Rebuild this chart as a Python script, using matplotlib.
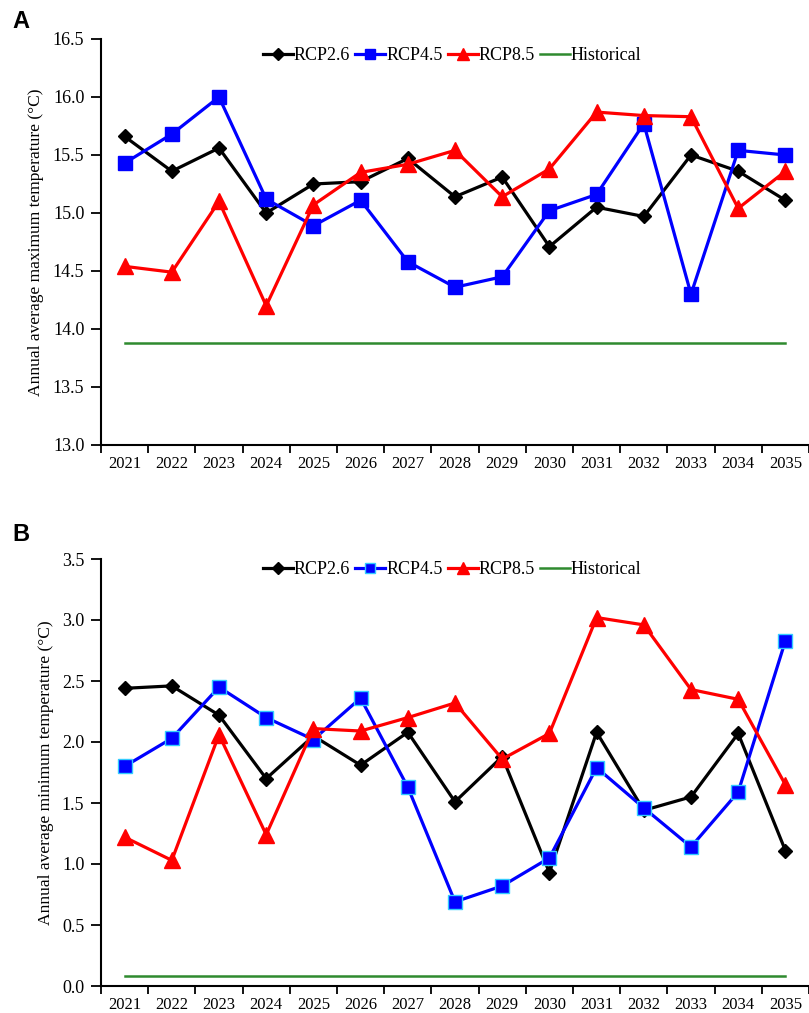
import numpy as np
import matplotlib
matplotlib.use("Agg")
import matplotlib.pyplot as plt

years = [str(y) for y in range(2021, 2036)]

# Panel A: annual average maximum temperature
tmax_rcp26 = [15.66, 15.36, 15.56, 15.00, 15.25, 15.27, 15.47, 15.14, 15.31, 14.71, 15.05, 14.97, 15.50, 15.36, 15.11]
tmax_rcp45 = [15.43, 15.68, 16.00, 15.12, 14.89, 15.11, 14.58, 14.36, 14.45, 15.02, 15.16, 15.77, 14.30, 15.54, 15.50]
tmax_rcp85 = [14.54, 14.49, 15.10, 14.20, 15.07, 15.35, 15.42, 15.54, 15.14, 15.38, 15.87, 15.84, 15.83, 15.04, 15.36]
tmax_hist = 13.88

# Panel B: annual average minimum temperature
tmin_rcp26 = [2.44, 2.46, 2.22, 1.70, 2.05, 1.81, 2.08, 1.51, 1.88, 0.93, 2.08, 1.44, 1.55, 2.07, 1.11]
tmin_rcp45 = [1.80, 2.03, 2.45, 2.20, 2.02, 2.36, 1.63, 0.69, 0.82, 1.05, 1.79, 1.46, 1.14, 1.59, 2.83]
tmin_rcp85 = [1.22, 1.03, 2.06, 1.24, 2.11, 2.09, 2.20, 2.32, 1.86, 2.07, 3.02, 2.96, 2.43, 2.35, 1.65]
tmin_hist = 0.08

plt.rcParams['font.family'] = ['Liberation Serif', 'DejaVu Serif']

fig = plt.figure(figsize=(8.09, 10.13), dpi=100)
W, H = 809, 1013

def make_ax(top_px, bot_px):
    left = 101 / W
    right = 809 / W
    return fig.add_axes([left, 1 - bot_px / H, right - left, (bot_px - top_px) / H])

axA = make_ax(39, 445)
axB = make_ax(559, 986)

def draw(ax, r26, r45, r85, hist, ylim, ylabel, blue_edge, legend_y):
    x = np.arange(len(years))
    ax.plot(x, r26, color='black', lw=2.3, marker='D', ms=7.5, mfc='black', mec='black', label='RCP2.6', zorder=3)
    ax.plot(x, r45, color='#0000FF', lw=2.3, marker='s', ms=9.5, mfc='#0000FF', mec=blue_edge, mew=1.0, label='RCP4.5', zorder=3)
    ax.plot(x, r85, color='#FF0000', lw=2.3, marker='^', ms=11, mfc='#FF0000', mec='#FF0000', label='RCP8.5', zorder=3)
    ax.plot(x, [hist] * len(x), color='#2f8a2f', lw=1.8, label='Historical', zorder=2)
    ax.set_xlim(-0.5, len(years) - 0.5)
    ax.set_ylim(*ylim)
    ticks = np.arange(ylim[0], ylim[1] + 0.01, 0.5)
    ax.set_yticks(ticks)
    ax.set_yticklabels([f"{v:.1f}" for v in ticks])
    ax.set_xticks(x)
    ax.set_xticklabels(years)
    ax.set_xticks(np.arange(-0.5, len(years), 1), minor=True)
    ax.tick_params(axis='x', which='major', length=0, pad=8, labelsize=12)
    ax.tick_params(axis='x', which='minor', length=6, width=1.3, direction='out')
    ax.tick_params(axis='y', length=7, width=1.3, direction='out', labelsize=13, pad=5)
    for s in ['top', 'right']:
        ax.spines[s].set_visible(False)
    for s in ['left', 'bottom']:
        ax.spines[s].set_linewidth(1.5)
    ax.set_ylabel(ylabel, fontsize=12.6, labelpad=6)
    ax.legend(loc='upper center', bbox_to_anchor=(0.496, legend_y), ncol=4, frameon=False,
              fontsize=13, handlelength=1.65, handletextpad=0.05, columnspacing=0.3,
              borderaxespad=0, markerscale=0.75)

draw(axA, tmax_rcp26, tmax_rcp45, tmax_rcp85, tmax_hist, (13.0, 16.5),
     'Annual average maximum temperature (°C)', '#0000FF', 0.997)
draw(axB, tmin_rcp26, tmin_rcp45, tmin_rcp85, tmin_hist, (0.0, 3.5),
     'Annual average minimum temperature (°C)', '#33ccff', 1.012)

fig.text(12 / W, 1 - 22 / H, 'A', fontsize=17, fontweight='bold', family='Liberation Sans', va='center', ha='left')
fig.text(12 / W, 1 - 534 / H, 'B', fontsize=17, fontweight='bold', family='Liberation Sans', va='center', ha='left')

fig.savefig('out.png', dpi=100)
